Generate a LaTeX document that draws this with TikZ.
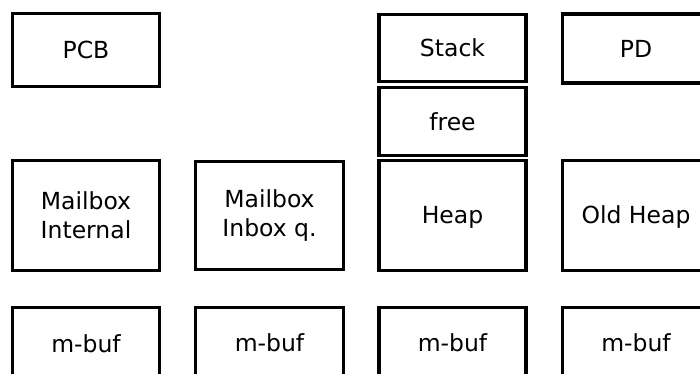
\documentclass[tikz,border=0pt]{standalone}
\usepackage{fontspec}
\setmainfont{DejaVu Sans}
\begin{document}
\begin{tikzpicture}[x=1pt,y=-1pt,
  box/.style={draw, line width=3.3pt, inner sep=0pt, align=center,
    minimum width=147pt, font=\fontsize{23.5}{29}\selectfont}]
\useasboundingbox (0,0) rectangle (700,374);
\clip (0,0) rectangle (700,374);
% top row
\node[box, minimum height=73pt] (pcb) at (86,50) {PCB};
\node[box, minimum height=67pt] (stack) at (452.5,48) {Stack};
\node[box, minimum height=68pt] (free) at (452.5,121.5) {free};
\node[box, minimum height=69pt] (pd) at (636,48.5) {PD};
% middle row
\node[box, minimum height=110pt] (mbint) at (86,215.5) {Mailbox\\Internal};
\node[box, minimum height=108pt, minimum width=148pt] (mbinbox) at (269.5,215.5) {Mailbox\\Inbox q.};
\node[box, minimum height=110pt, text depth=1pt] (heap) at (452.5,215.5) {Heap};
\node[box, minimum height=110pt, text depth=1pt] (oldheap) at (636,215.5) {Old Heap};
% bottom row
\node[box, minimum height=73pt] (mbuf1) at (86,344) {m-buf};
\node[box, minimum height=73pt, minimum width=148pt] (mbuf2) at (269.5,344) {\raisebox{3pt}{m-buf}};
\node[box, minimum height=73pt] (mbuf3) at (452.5,344) {\raisebox{3pt}{m-buf}};
\node[box, minimum height=73pt] (mbuf4) at (636,344) {\raisebox{3pt}{m-buf}};
\end{tikzpicture}
\end{document}
